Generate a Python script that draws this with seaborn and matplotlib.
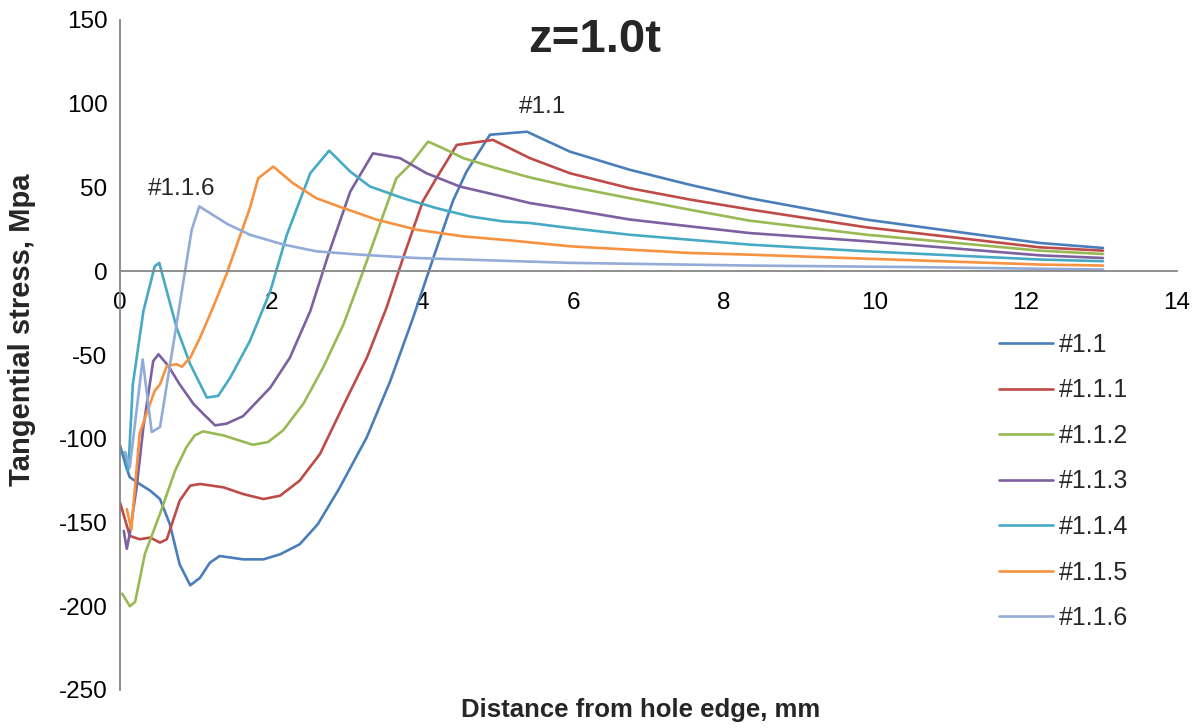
import numpy as np
import pandas as pd
import matplotlib
matplotlib.use("Agg")
import matplotlib.pyplot as plt
import seaborn as sns

# Tangential stress along the path from the hole edge, z = 1.0t
series_names = ["#1.1", "#1.1.1", "#1.1.2", "#1.1.3", "#1.1.4", "#1.1.5", "#1.1.6"]
series_colors = ["#4A7EBB", "#BE4B48", "#98B954", "#7D60A0", "#46AAC5", "#F69240", "#93ABD8"]

x_11 = [0, 0.09, 0.13, 0.26, 0.40, 0.53, 0.66, 0.79, 0.93, 1.06, 1.19, 1.32, 1.63, 1.90,
        2.12, 2.38, 2.62, 2.90, 3.27, 3.58, 3.88, 4.15, 4.41, 4.59, 4.90, 5.39, 5.96,
        6.75, 7.55, 8.34, 9.89, 12.18, 13.02]
y_11 = [-104, -118, -123, -127, -131, -136, -151, -175, -187.5, -183, -174, -170, -172, -172,
        -169, -163, -151, -130, -99, -65.5, -28, 8, 42, 59.5, 81.5, 83.3, 71.4,
        60.6, 51.6, 43.6, 30.8, 16.9, 13.9]

x_111 = [0, 0.13, 0.26, 0.40, 0.53, 0.62, 0.79, 0.93, 1.06, 1.37, 1.63, 1.90, 2.12, 2.38,
         2.65, 2.96, 3.27, 3.53, 3.75, 4.01, 4.19, 4.46, 4.94, 5.43, 5.96, 6.75, 7.55,
         8.34, 9.89, 12.18, 13.02]
y_111 = [-138, -158, -160, -159, -162, -160, -137, -128, -127, -129, -133, -136, -134, -125,
         -109, -80, -51.6, -21.8, 8, 41.7, 55.5, 75.4, 78.4, 67.5, 58.5, 49.6, 42.8,
         36.9, 26.2, 14.3, 12.3]

x_112 = [0.03, 0.13, 0.20, 0.33, 0.53, 0.73, 0.88, 0.99, 1.10, 1.37, 1.76, 1.96, 2.16, 2.43,
         2.69, 2.96, 3.22, 3.66, 3.84, 4.08, 4.28, 4.55, 4.95, 5.43, 5.96, 6.75, 7.55,
         8.34, 9.89, 12.18, 13.02]
y_112 = [-192.5, -200, -197.4, -168.7, -144.8, -119, -105, -98, -95.6, -98, -103.6, -102, -95, -79,
         -57.5, -31.7, 0, 55.5, 63.5, 77.4, 73.4, 67.5, 62, 56, 50.6, 43.6, 36.7,
         30.2, 21.8, 12.3, 10.3]

x_113 = [0.05, 0.09, 0.13, 0.22, 0.31, 0.44, 0.51, 0.64, 0.79, 0.97, 1.10, 1.26, 1.41, 1.63,
         1.99, 2.25, 2.52, 2.76, 3.05, 3.35, 3.71, 4.06, 4.50, 5.07, 5.43, 5.96, 6.75,
         7.55, 8.34, 9.89, 12.18, 13.02]
y_113 = [-155, -165.7, -156.7, -129, -93, -53.6, -49.6, -56.5, -67.5, -79, -85, -92, -91, -86.5,
         -69.5, -51.6, -23.8, 10, 47.6, 70.4, 67.5, 58.5, 50.6, 44.6, 40.7, 36.9, 30.9,
         26.8, 22.8, 17.9, 9.5, 7.9]

x_114 = [0.06, 0.11, 0.17, 0.31, 0.46, 0.52, 0.62, 0.75, 0.93, 1.15, 1.30, 1.46, 1.72, 1.99,
         2.21, 2.52, 2.77, 3.05, 3.31, 3.75, 4.19, 4.64, 5.07, 5.43, 5.96, 6.75, 7.55,
         8.34, 9.89, 12.18, 13.02]
y_114 = [-108, -119, -67.5, -23.8, 3, 5, -11.9, -33.7, -55.5, -75.4, -74.4, -63.5, -41.7, -12,
         21.8, 58.5, 72, 59.5, 50.6, 43.6, 37.7, 32.7, 29.8, 28.8, 25.8, 21.8, 18.8,
         15.9, 11.9, 7, 6]

x_115 = [0.09, 0.15, 0.26, 0.35, 0.46, 0.53, 0.62, 0.75, 0.82, 0.93, 1.06, 1.23, 1.41, 1.72,
         1.83, 2.03, 2.29, 2.60, 2.96, 3.40, 3.93, 4.55, 5.17, 5.96, 6.75, 7.55, 8.34,
         9.89, 12.18, 13.02]
y_115 = [-142, -154, -97, -85, -71.4, -67.5, -56.5, -55.5, -57, -51.6, -39.7, -21.8, -1.8, 37.7,
         55.5, 62.5, 52.6, 43.6, 37.7, 30.8, 24.8, 20.8, 18.4, 14.9, 12.9, 10.9, 9.9,
         7.5, 4, 3.4]

x_116 = [0.07, 0.13, 0.30, 0.42, 0.53, 0.95, 1.05, 1.43, 1.72, 2.16, 2.60, 3.18, 3.93, 5.96,
         8.34, 10.5, 13.02]
y_116 = [-108, -117, -52.6, -96, -93, 24.8, 38.7, 28, 21.8, 16, 11.9, 9.9, 7.9, 5,
         3.4, 2.5, 1]

xs = [x_11, x_111, x_112, x_113, x_114, x_115, x_116]
ys = [y_11, y_111, y_112, y_113, y_114, y_115, y_116]

frames = []
for name, xv, yv in zip(series_names, xs, ys):
    frames.append(pd.DataFrame({"x": xv, "y": yv, "series": name}))
df = pd.concat(frames, ignore_index=True)

x_ticks = list(range(0, 15, 2))
y_ticks = list(range(-250, 151, 50))

sns.set_style("white")
plt.rcParams["font.family"] = ["Liberation Sans", "DejaVu Sans"]
plt.rcParams["axes.unicode_minus"] = False

fig = plt.figure(figsize=(11.99, 7.28), dpi=100)
ax = fig.add_axes([120 / 1199, 38 / 728, (1177 - 120) / 1199, (690 - 20) / 728])

sns.lineplot(data=df, x="x", y="y", hue="series", hue_order=series_names,
             palette=series_colors, sort=False, estimator=None, units="series",
             linewidth=1.9, ax=ax)

ax.set_xlim(0, 14)
ax.set_ylim(-250, 150)
ax.set_xticks(x_ticks)
ax.set_yticks(y_ticks)
ax.set_xlabel("")
ax.set_ylabel("")

grey = "#868686"
for side in ("top", "right"):
    ax.spines[side].set_visible(False)
ax.spines["bottom"].set_position(("data", 0))
for side in ("left", "bottom"):
    ax.spines[side].set_color(grey)
    ax.spines[side].set_linewidth(1.3)
ax.tick_params(axis="both", direction="out", length=6, width=1.3, color=grey,
               labelsize=17.5, labelcolor="black")
ax.tick_params(axis="x", pad=9)
ax.tick_params(axis="y", pad=3)

ax.text(5.6, 98, "#1.1", fontsize=17.5, ha="center", va="center")
ax.text(0.81, 49, "#1.1.6", fontsize=17.5, ha="center", va="center")

fig.text(595 / 1199, 1 - 40 / 728, "z=1.0t", fontsize=34, fontweight="bold",
         ha="center", va="center")
fig.text(641 / 1199, 1 - 710 / 728, "Distance from hole edge, mm", fontsize=18.5,
         fontweight="bold", ha="center", va="center")
fig.text(22 / 1199, 1 - 330 / 728, "Tangential stress, Mpa", fontsize=21,
         fontweight="bold", ha="center", va="center", rotation=90)

handles, labels = ax.get_legend_handles_labels()
ax.legend(handles, labels, loc="upper left", bbox_to_anchor=(999 / 1199, 1 - 333 / 728),
          bbox_transform=fig.transFigure, frameon=False, fontsize=18, borderpad=0,
          borderaxespad=0, handlelength=2.15, handletextpad=0.25, labelspacing=0.86)

fig.savefig("out.png", dpi=100)
